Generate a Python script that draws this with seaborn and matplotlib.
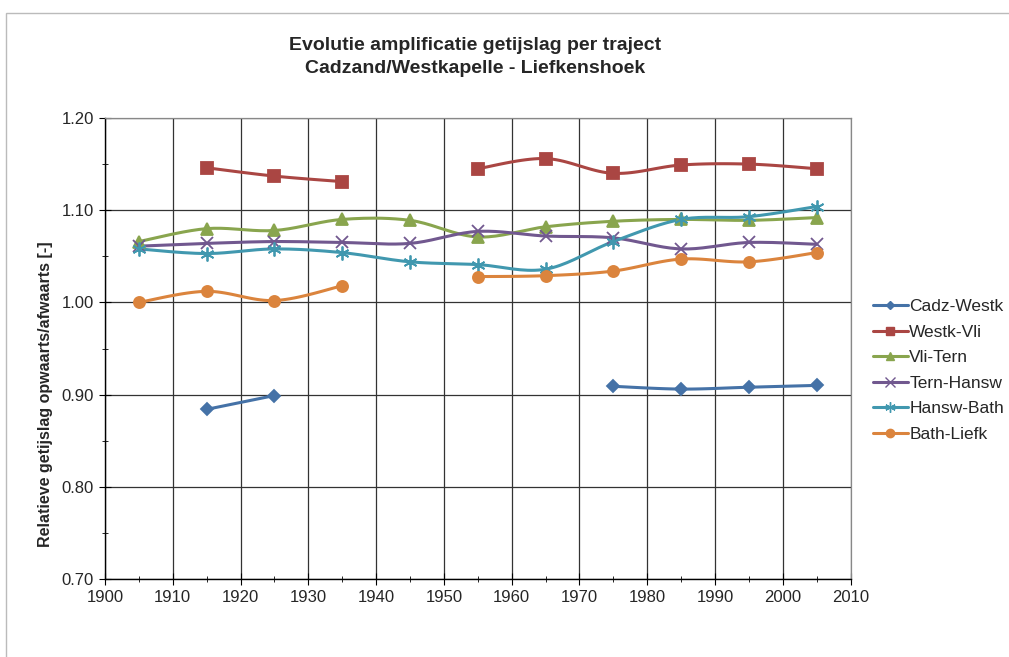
import numpy as np
import pandas as pd
import seaborn as sns
import matplotlib.pyplot as plt
from matplotlib.lines import Line2D
from matplotlib.patches import Rectangle
from matplotlib.ticker import MultipleLocator

years = [1905, 1915, 1925, 1935, 1945, 1955, 1965, 1975, 1985, 1995, 2005]
nan = np.nan

cadz_westk = [nan, 0.884, 0.899, nan, nan, nan, nan, 0.909, 0.906, 0.908, 0.910]
westk_vli = [nan, 1.146, 1.137, 1.131, nan, 1.145, 1.156, 1.140, 1.149, 1.150, 1.145]
vli_tern = [1.066, 1.080, 1.078, 1.090, 1.089, 1.071, 1.082, 1.088, 1.090, 1.089, 1.092]
tern_hansw = [1.061, 1.064, 1.066, 1.065, 1.064, 1.077, 1.072, 1.070, 1.058, 1.065, 1.063]
hansw_bath = [1.058, 1.053, 1.058, 1.054, 1.044, 1.041, 1.036, 1.066, 1.090, 1.093, 1.104]
bath_liefk = [1.000, 1.012, 1.002, 1.018, nan, 1.028, 1.029, 1.034, 1.047, 1.044, 1.054]

labels = ['Cadz-Westk', 'Westk-Vli', 'Vli-Tern', 'Tern-Hansw', 'Hansw-Bath', 'Bath-Liefk']
series = [cadz_westk, westk_vli, vli_tern, tern_hansw, hansw_bath, bath_liefk]
colors = ['#4572A7', '#AA4643', '#89A54E', '#71588F', '#4198AF', '#DB843D']
markers = ['D', 's', '^', 'x', (6, 2, 0), 'o']
msizes = [6, 8, 8, 9, 10, 8]


def smooth(xs, ys, n=20):
    # Excel-like smoothed line (Bezier / Catmull-Rom between the points)
    xs = np.asarray(xs, float)
    ys = np.asarray(ys, float)
    if len(xs) < 3:
        return xs, ys
    px = np.concatenate([[xs[0]], xs, [xs[-1]]])
    py = np.concatenate([[ys[0]], ys, [ys[-1]]])
    ox, oy = [], []
    t = np.linspace(0, 1, n)
    for i in range(1, len(px) - 2):
        p0, p1, p2, p3 = (np.array([px[j], py[j]]) for j in range(i - 1, i + 3))
        c1 = p1 + (p2 - p0) / 6
        c2 = p2 - (p3 - p1) / 6
        b = ((1 - t) ** 3)[:, None] * p1 + (3 * (1 - t) ** 2 * t)[:, None] * c1 \
            + (3 * (1 - t) * t ** 2)[:, None] * c2 + (t ** 3)[:, None] * p2
        ox.extend(b[:, 0])
        oy.extend(b[:, 1])
    return np.array(ox), np.array(oy)


sns.set_style('white')
plt.rcParams['font.family'] = ['Liberation Sans', 'DejaVu Sans']

fig = plt.figure(figsize=(10.09, 6.57), dpi=100)
ax = fig.add_axes([0.104, 0.1187, 0.739, 0.7017])

df = pd.DataFrame({'year': years})
for lab, vals in zip(labels, series):
    df[lab] = vals

for lab, col, mk, ms in zip(labels, colors, markers, msizes):
    s = df[['year', lab]]
    seg = s[lab].isna().cumsum()
    for _, part in s.dropna().groupby(seg[s[lab].notna()]):
        sx, sy = smooth(part['year'], part[lab])
        sns.lineplot(x=sx, y=sy, sort=False, estimator=None, color=col,
                     linewidth=2.2, ax=ax, zorder=3)
    ax.plot(s['year'], s[lab], linestyle='none', marker=mk, markersize=ms,
            color=col, markeredgecolor=col, markeredgewidth=1.3, zorder=4)

ax.set_xlim(1900, 2010)
ax.set_ylim(0.70, 1.20)
ax.set_xticks(range(1900, 2011, 10))
ax.xaxis.set_minor_locator(MultipleLocator(5))
ax.set_yticks(np.arange(0.70, 1.201, 0.10))
ax.set_yticks(np.arange(0.75, 1.2, 0.10), minor=True)
ax.set_yticklabels([f'{v:.2f}' for v in np.arange(0.70, 1.201, 0.10)])
ax.grid(True, which='major', color='#333333', linewidth=0.9)
ax.tick_params(axis='both', which='major', labelsize=12, length=8,
               direction='inout', left=True, bottom=True, color='black', pad=4)
ax.tick_params(axis='both', which='minor', length=5, direction='inout',
               left=True, bottom=True, color='black')
for side in ['top', 'right']:
    ax.spines[side].set_color('#888888')
    ax.spines[side].set_linewidth(0.9)
for side in ['left', 'bottom']:
    ax.spines[side].set_color('black')
    ax.spines[side].set_linewidth(1.0)

ax.set_ylabel('Relatieve getijslag opwaarts/afwaarts [-]', fontsize=11.5,
              fontweight='bold')
ax.yaxis.set_label_coords(-0.069, 0.40)
fig.text(0.471, 0.913, 'Evolutie amplificatie getijslag per traject\nCadzand/Westkapelle - Liefkenshoek',
         ha='center', va='center', fontsize=14, fontweight='bold', linespacing=1.45)

handles = [Line2D([0], [0], color=c, marker=m, markersize=ms * 0.75, linewidth=2.2,
                  markeredgecolor=c, markeredgewidth=1.0)
           for c, m, ms in zip(colors, markers, msizes)]
fig.legend(handles, labels, loc='center left', bbox_to_anchor=(0.865, 0.436),
           frameon=False, fontsize=12.5, handlelength=2.0, handletextpad=0.1,
           labelspacing=0.6, borderpad=0, borderaxespad=0)

fig.patches.append(Rectangle((0.006, -0.01), 1.2, 0.99, transform=fig.transFigure,
                             fill=False, edgecolor='#bbbbbb', linewidth=1.0))

fig.savefig('out.png', dpi=100)
